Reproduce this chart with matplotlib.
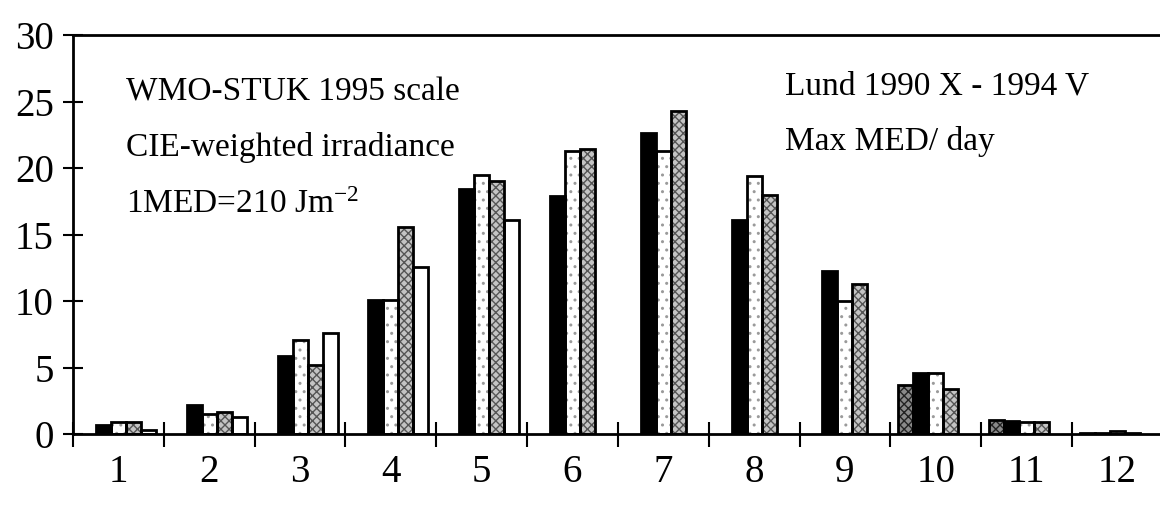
import numpy as np
import matplotlib
matplotlib.use("Agg")
import matplotlib.pyplot as plt
from matplotlib.ticker import FixedLocator

plt.rcParams['font.family'] = ['Liberation Serif', 'DejaVu Serif']
plt.rcParams['mathtext.default'] = 'regular'
plt.rcParams['hatch.linewidth'] = 1.0

months = ["1", "2", "3", "4", "5", "6", "7", "8", "9", "10", "11", "12"]
years = [1990, 1991, 1992, 1993, 1994]
nan = np.nan

# Max MED/day per month, one list per year (Oct 1990 - May 1994)
y1990 = [nan, nan, nan, nan, nan, nan, nan, nan, nan, 3.7, 1.1, 0.1]
y1991 = [0.7, 2.2, 5.9, 10.1, 18.4, 17.9, 22.6, 16.1, 12.3, 4.6, 1.0, 0.1]
y1992 = [0.9, 1.5, 7.1, 10.1, 19.5, 21.3, 21.3, 19.4, 10.0, 4.6, 0.9, 0.2]
y1993 = [0.9, 1.7, 5.2, 15.6, 19.0, 21.4, 24.3, 18.0, 11.3, 3.4, 0.9, 0.05]
y1994 = [0.3, 1.3, 7.6, 12.6, 16.1, nan, nan, nan, nan, nan, nan, nan]
values = [y1990, y1991, y1992, y1993, y1994]

# fill, hatch, hatch colour per year
styles = [
    ("#8a8a8a", "xxxx", "#222222"),
    ("black", "", "black"),
    ("white", "..", "#9a9a9a"),
    ("#c4c4c4", "xxxx", "#555555"),
    ("white", "", "white"),
]

fig = plt.figure(figsize=(11.6, 5.15), dpi=100)
ax = fig.add_axes([0.063, 0.157, 0.937, 0.775])

x = np.arange(1, 13)
w = 0.165
for i, vals in enumerate(values):
    pos = x + (i - 2) * w
    fc, hatch, hc = styles[i]
    ax.bar(pos, vals, width=w, color=fc, hatch=hatch, edgecolor=hc,
           linewidth=0, zorder=2)
    ax.bar(pos, vals, width=w, fill=False, edgecolor="black",
           linewidth=2.0, zorder=3)

ax.set_xlim(0.5, 12.47)
ax.set_ylim(0, 30)

ax.spines['right'].set_visible(False)
for s in ['left', 'top', 'bottom']:
    ax.spines[s].set_linewidth(2.0)
ax.spines['bottom'].set_zorder(4)

ax.set_yticks([0, 5, 10, 15, 20, 25, 30])
ax.tick_params(axis='y', direction='inout', length=14, width=1.5,
               labelsize=28, pad=7)

ax.set_xticks(x)
ax.set_xticklabels(months)
ax.xaxis.set_minor_locator(FixedLocator(np.arange(0.5, 12.6, 1.0)))
ax.tick_params(axis='x', which='major', length=0, labelsize=28, pad=14)
ax.tick_params(axis='x', which='minor', direction='inout', length=18, width=1.5)

ax.text(0.049, 0.835, "WMO-STUK 1995 scale", transform=ax.transAxes, fontsize=24)
ax.text(0.049, 0.698, "CIE-weighted irradiance", transform=ax.transAxes, fontsize=24)
ax.text(0.049, 0.553, "1MED=210 Jm$^{-2}$", transform=ax.transAxes, fontsize=24)
ax.text(0.655, 0.850, "Lund 1990 X - 1994 V", transform=ax.transAxes, fontsize=24)
ax.text(0.655, 0.712, "Max MED/ day", transform=ax.transAxes, fontsize=24)

fig.savefig("out.png", dpi=100)
